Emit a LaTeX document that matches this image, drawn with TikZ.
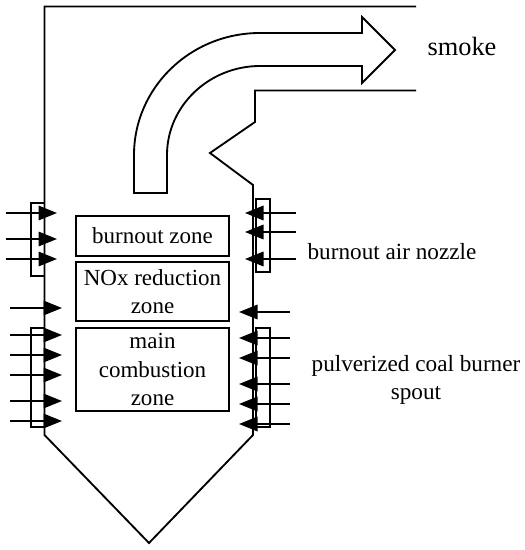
\documentclass[tikz,border=0pt]{standalone}
\usepackage{fontspec}
\setmainfont{Liberation Serif}
\usetikzlibrary{arrows.meta}
\tikzset{
  zonebox/.style={draw,line width=1.05pt,minimum width=3.06cm,inner sep=0pt,align=center},
  nozzle/.style={-{Triangle[length=.37cm,width=.29cm]},line width=1pt},
  wall/.style={line width=1.05pt},
  label/.style={inner sep=0pt,align=center}
}
\begin{document}
\begin{tikzpicture}[x=0.02cm,y=-0.02cm,every node/.style={font=\fontsize{13.1}{16.2}\selectfont}]
  \useasboundingbox (0,0) rectangle (524,550);
  \coordinate (FlueT) at (416,6.5);
  \coordinate (FlueB) at (416,90.5);
  \coordinate (TL) at (44.5,6.5);
  \coordinate (BL) at (44.5,435);
  \coordinate (BR) at (253,435);
  \coordinate (Hop) at (149,543);
  \coordinate (NoseT) at (255,122);
  \coordinate (NoseM) at (210,153);
  \coordinate (NoseB) at (253,185);
  % furnace outline
  \draw[wall] (FlueT)--(TL)--(BL)--(Hop)--(BR)--(NoseB)--(NoseM)--(NoseT)--(255,90.5)--(FlueB);
  % flue gas arrow
  \draw[wall] (134,193)--(134,155) .. controls (134,88) and (190,33) .. (260,33)--(362,33)--(362,17)--(395,50)--(362,83)--(362,66)--(260,66) .. controls (209,66) and (167,106) .. (167,155)--(167,193)--cycle;
  % zones
  \node[zonebox,minimum height=.8cm] (burnout) at (152.5,236) {burnout zone};
  \node[zonebox,minimum height=1.18cm] (reduction) at (152.5,291.5) {NOx reduction\\zone};
  \node[zonebox,minimum height=1.66cm] (main) at (152.5,369.5) {main\\combustion\\zone};
  % nozzle strips
  \draw[wall] (44.5,203)--(31,203)--(31,276)--(44.5,276);
  \draw[wall] (44.5,328)--(31,328)--(31,427)--(44.5,427);
  \draw[wall] (256,199) rectangle (270,272);
  \draw[wall] (256,328) rectangle (270,427);
  % left side
  \draw[nozzle] (6,213)--(57,213);
  \draw[nozzle] (6,239)--(57,239);
  \draw[nozzle] (6,259)--(57,259);
  \draw[nozzle] (10,308)--(62,308);
  \draw[nozzle] (10,335)--(62,335);
  \draw[nozzle] (10,355)--(62,355);
  \draw[nozzle] (10,375)--(62,375);
  \draw[nozzle] (10,401)--(62,401);
  \draw[nozzle] (10,421)--(62,421);
  % right side
  \draw[nozzle] (296,213)--(245,213);
  \draw[nozzle] (296,232)--(245,232);
  \draw[nozzle] (296,259)--(245,259);
  \draw[nozzle] (290,312)--(239,312);
  \draw[nozzle] (290,338)--(239,338);
  \draw[nozzle] (290,358)--(239,358);
  \draw[nozzle] (290,384)--(239,384);
  \draw[nozzle] (290,404)--(239,404);
  \draw[nozzle] (290,424)--(239,424);
  % labels
  \node[label,font=\fontsize{15}{18}\selectfont] (smoke) at (462,46) {smoke};
  \node[label,font=\fontsize{13.2}{16}\selectfont] (air) at (392,252) {burnout air nozzle};
  \node[label,font=\fontsize{13.2}{16}\selectfont] (coal) at (416,380) {pulverized coal burner\\spout};
\end{tikzpicture}
\end{document}
